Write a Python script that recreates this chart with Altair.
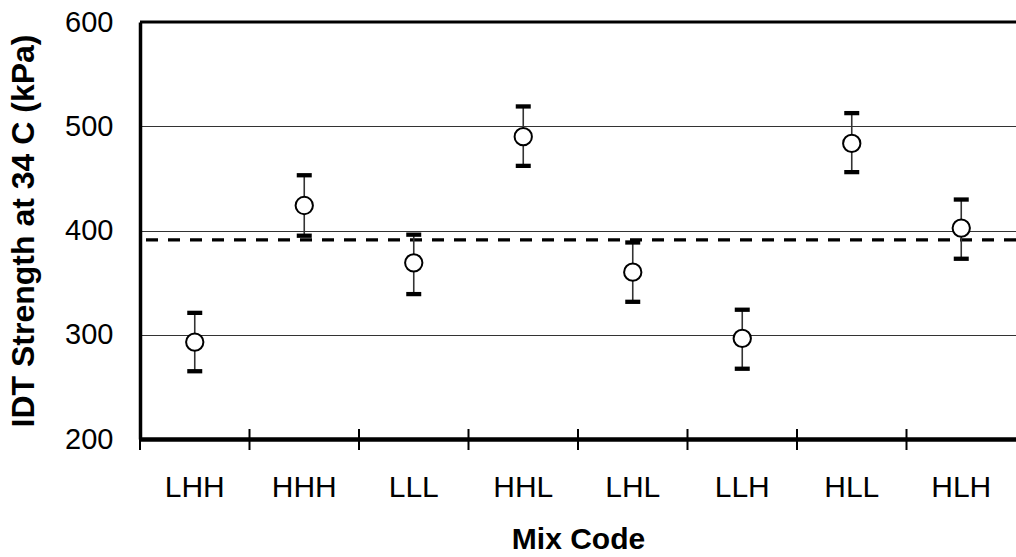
import altair as alt
import pandas as pd

codes = ["LHH", "HHH", "LLL", "HHL", "LHL", "LLH", "HLL", "HLH"]
means = [293, 424, 369, 490, 360, 296.5, 483.5, 402.3]
lows = [265, 395, 339, 462, 331.6, 267.4, 456, 372.9]
highs = [321, 453, 396, 519, 388.5, 324, 512.6, 429.7]
average = [391]
y_ticks = [200, 300, 400, 500, 600]

df = pd.DataFrame({"code": codes, "mean": means, "low": lows, "high": highs})
avg_df = pd.DataFrame({"avg": average})

W, H = 876, 417
FONT = "Liberation Sans"

xenc = alt.X("code:N", sort=codes, scale=alt.Scale(paddingInner=0, paddingOuter=0),
             axis=alt.Axis(title="Mix Code", ticks=False, tickSize=0, labelAngle=0,
                           labelFontSize=30, labelFont=FONT, labelColor="black",
                           labelBaseline="alphabetic", labelPadding=57,
                           domainColor="black", domainWidth=4.5,
                           titleFont=FONT, titleFontSize=30, titleFontWeight="bold",
                           titleColor="black", titleBaseline="alphabetic",
                           titleX=W / 2, titleY=109, titleAlign="center"))

yscale = alt.Scale(domain=[200, 600], nice=False, zero=False)
yaxis = alt.Axis(title="IDT Strength at 34 C (kPa)", values=y_ticks, ticks=False, tickSize=0,
                 labelFontSize=29, labelFont=FONT, labelColor="black", labelPadding=27,
                 grid=True, gridColor="#333333", gridWidth=1,
                 domainColor="black", domainWidth=3.5,
                 titleFont=FONT, titleFontSize=32, titleFontWeight="bold", titleColor="black",
                 titleAngle=-90, titleBaseline="alphabetic", titleAlign="center",
                 titleX=-107, titleY=H / 2)

base = alt.Chart(df)

errline = base.mark_rule(color="#333333", strokeWidth=1.6).encode(
    x=xenc,
    y=alt.Y("low:Q", scale=yscale, axis=yaxis),
    y2="high:Q",
)
cap_lo = base.mark_tick(color="black", thickness=4.3, size=15, opacity=1).encode(
    x=alt.X("code:N", sort=codes), y=alt.Y("low:Q"))
cap_hi = base.mark_tick(color="black", thickness=4.3, size=15, opacity=1).encode(
    x=alt.X("code:N", sort=codes), y=alt.Y("high:Q"))
points = base.mark_point(shape="circle", fill="white", fillOpacity=1, stroke="black",
                         strokeWidth=2, size=300, opacity=1).encode(
    x=alt.X("code:N", sort=codes), y=alt.Y("mean:Q"))

avg_line = alt.Chart(avg_df).mark_rule(color="black", strokeWidth=3.3, strokeDash=[12, 10]).encode(
    y=alt.Y("avg:Q"))

top_border = alt.Chart(avg_df).mark_rule(color="black", strokeWidth=3).encode(
    y=alt.value(0))

bound_ticks = base.mark_rule(color="black", strokeWidth=2).encode(
    x=alt.X("code:N", sort=codes, bandPosition=0),
    y=alt.value(H - 10), y2=alt.value(H + 11))

chart = alt.layer(avg_line, errline, cap_lo, cap_hi, points, top_border, bound_ticks).properties(
    width=W, height=H,
    autosize=alt.AutoSizeParams(type="none"),
    padding={"left": 140, "top": 22, "right": 0, "bottom": 118},
    background="white",
).configure_view(strokeWidth=0)

chart.save("out.html", embed_options={"renderer": "svg", "actions": False})
